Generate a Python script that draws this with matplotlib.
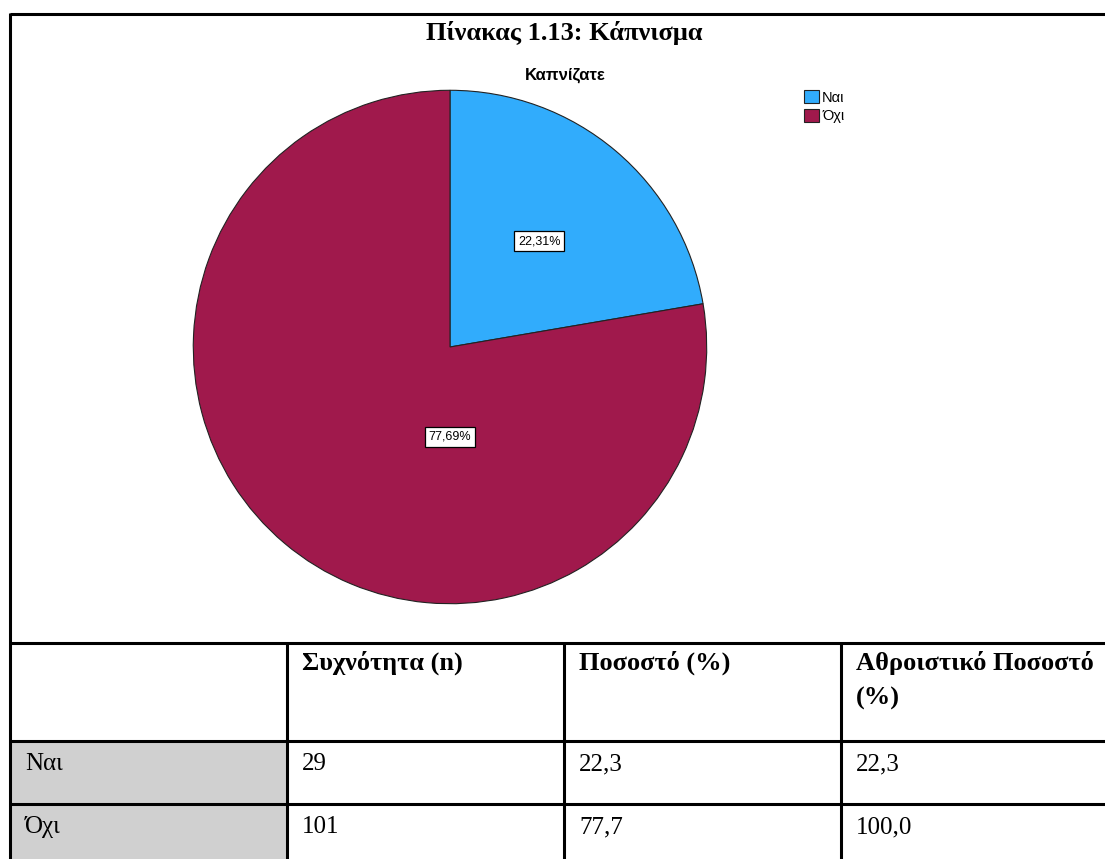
import numpy as np
import matplotlib.pyplot as plt
from matplotlib.patches import Rectangle

# data
labels = ['Ναι', 'Όχι']
counts = [29, 101]
percent = [22.3, 77.7]
cum_percent = [22.3, 100.0]
headers = ['', 'Συχνότητα (n)', 'Ποσοστό (%)', 'Αθροιστικό Ποσοστό\n(%)']
colors = ['#31acfc', '#a0194c']

W, H = 1105, 859
fig = plt.figure(figsize=(W / 100, H / 100), dpi=100)

# background axes in pixel coords (y down)
bg = fig.add_axes([0, 0, 1, 1])
bg.set_xlim(0, W)
bg.set_ylim(H, 0)
bg.axis('off')

serif = 'Liberation Serif'
sans = 'Liberation Sans'

# outer frame
bg.plot([10, W], [14, 14], color='k', lw=2.2, solid_capstyle='butt')
bg.plot([10, 10], [13, H], color='k', lw=2.2, solid_capstyle='butt')

bg.text(564, 33, 'Πίνακας 1.13: Κάπνισμα', ha='center', va='center',
        fontsize=19, fontweight='bold', family=serif)

# table
row_y = [643, 741, 804, H]
col_x = [10, 287, 564, 841, W]
for i in range(1, 3):
    bg.add_patch(Rectangle((col_x[0], row_y[i]), col_x[1] - col_x[0],
                           row_y[i + 1] - row_y[i], color='#d0d0d0', lw=0))
for y in row_y[:3]:
    bg.plot([10, W], [y, y], color='k', lw=2.2, solid_capstyle='butt')
for x in col_x[1:4]:
    bg.plot([x, x], [row_y[0], H], color='k', lw=2.2, solid_capstyle='butt')

for j, h in enumerate(headers):
    if h:
        bg.text(col_x[j] + 15, row_y[0] + 8, h, ha='left', va='top',
                fontsize=19, fontweight='bold', family=serif, linespacing=1.62)

rows = [[labels[i], str(counts[i]), f'{percent[i]:.1f}'.replace('.', ','),
         f'{cum_percent[i]:.1f}'.replace('.', ',')] for i in range(len(labels))]
for i, r in enumerate(rows):
    for j, val in enumerate(r):
        bg.text(col_x[j] + 15, row_y[i + 1] + 12, val, ha='left', va='top',
                fontsize=18, family=serif)

# pie
cx, cy, rad = 450, 347, 258
ax = fig.add_axes([(cx - rad) / W, (H - cy - rad) / H, 2 * rad / W, 2 * rad / H])
wedges, _ = ax.pie(counts, colors=colors, startangle=90, counterclock=False,
                   wedgeprops=dict(edgecolor='#222222', linewidth=0.8))
ax.set_xlim(-1.005, 1.005)
ax.set_ylim(-1.005, 1.005)
ax.set_aspect('equal')

total = sum(counts)
pct = [c / total * 100 for c in counts]
# label positions (mid-angle for first slice, below centre for second)
mid = np.deg2rad(90 - pct[0] / 100 * 360 / 2)
pos = [(0.54 * np.cos(mid), 0.54 * np.sin(mid)), (0, -0.35)]
for p, (x, y) in zip(pct, pos):
    ax.text(x, y, f'{p:.2f}%'.replace('.', ','), ha='center', va='center',
            fontsize=9, family=sans,
            bbox=dict(boxstyle='square,pad=0.3', fc='white', ec='black', lw=0.9))

bg.text(565, 75, 'Καπνίζατε', ha='center', va='center', fontsize=12,
        fontweight='bold', family=sans)

ax.legend(wedges, labels, loc='upper left', bbox_to_anchor=(804 / W, 1 - 90 / H),
          bbox_transform=fig.transFigure, frameon=False, handlelength=1.05,
          handleheight=1.0, handletextpad=0.2, labelspacing=0.3, borderpad=0,
          borderaxespad=0, prop=dict(family=sans, size=10.5))

fig.savefig('out.png', dpi=100)
